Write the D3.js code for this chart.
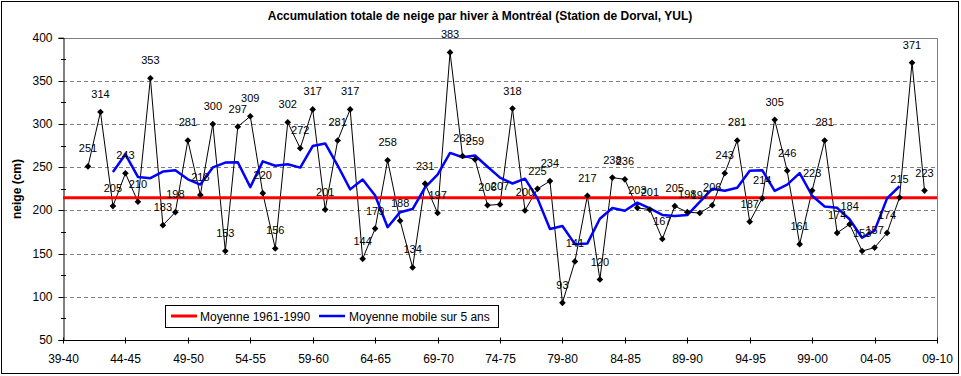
<!DOCTYPE html>
<html>
<head>
<meta charset="utf-8">
<script src="https://cdn.jsdelivr.net/npm/d3@7"></script>
<style>
  body { margin: 0; background: #fff; }
  svg { display: block; font-family: "Liberation Sans", Arial, sans-serif; }
</style>
</head>
<body>
<svg id="chart" width="961" height="376"></svg>
<script>
// ---------- DATA ----------
const firstSeasonStart = 1939;   // axis starts at 39-40
const lastSeasonStart = 2009;    // axis ends at 09-10
const dataStartYear = 1941;      // first value is 41-42

const snowfall = [
  251, 314, 205, 243, 210, 353, 183, 198, 281, 218,
  300, 153, 297, 309, 220, 156, 302, 272, 317, 201,
  281, 317, 144, 179, 258, 188, 134, 231, 197, 383,
  263, 259, 206, 207, 318, 200, 225, 234, 93, 141,
  217, 120, 238, 236, 203, 201, 167, 205, 198, 197,
  206, 243, 281, 187, 214, 305, 246, 161, 223, 281,
  174, 184, 153, 157, 174, 215, 371, 223
];

const movingAvgStartYear = 1943; // centered 5-year average, first at 43-44
const movingAvg = [
  244.6, 265.0, 238.8, 237.4, 245.0, 246.6, 236.0, 230.0, 249.8, 255.4,
  255.8, 227.0, 256.8, 251.8, 253.4, 249.6, 274.6, 277.6, 252.0, 224.4,
  235.8, 217.2, 180.6, 198.0, 201.6, 226.6, 241.6, 266.6, 261.6, 263.6,
  250.6, 238.0, 231.2, 236.8, 214.0, 178.6, 182.0, 161.0, 161.8, 190.4,
  202.8, 199.6, 209.0, 202.4, 194.8, 193.6, 194.6, 209.8, 225.0, 222.8,
  226.2, 246.0, 246.6, 222.6, 229.8, 243.2, 217.0, 204.6, 203.0, 189.8,
  168.4, 176.6, 214.0, 228.0
];

const normal1961_1990 = 214.7;

const tickLabels = ["39-40","44-45","49-50","54-55","59-60","64-65","69-70",
  "74-75","79-80","84-85","89-90","94-95","99-00","04-05","09-10"];
const yTicks = [50, 100, 150, 200, 250, 300, 350, 400];
const yMinorTicks = [75, 125, 175, 225, 275, 325, 375];
const gridValues = [100, 150, 200, 250, 300, 350];

const title = "Accumulation totale de neige par hiver à Montréal (Station de Dorval, YUL)";
const yTitle = "neige (cm)";
const legendLabels = ["Moyenne 1961-1990", "Moyenne mobile sur 5 ans"];

// ---------- HELPERS ----------
const seasonLabel = yr => String(yr % 100).padStart(2, "0") + "-" + String((yr + 1) % 100).padStart(2, "0");
const seasons = d3.range(firstSeasonStart, lastSeasonStart + 1).map(seasonLabel);
const points = snowfall.map((v, i) => ({ s: seasonLabel(dataStartYear + i), v }));
const avgPoints = movingAvg.map((v, i) => ({ s: seasonLabel(movingAvgStartYear + i), v }));

// ---------- LAYOUT ----------
const svg = d3.select("#chart");
const W = 961, H = 376;
const plotLeft = 63, plotRight = 937, plotTop = 37.7, plotBottom = 340;

const x = d3.scalePoint().domain(seasons).range([plotLeft, plotRight]);
const y = d3.scaleLinear().domain([50, 400]).range([plotBottom, plotTop]);
const py = v => Math.round(y(v)) + 0.5;

// outer border
svg.append("rect").attr("x", 1.5).attr("y", 1.5).attr("width", W - 4).attr("height", H - 4)
  .attr("fill", "#fff").attr("stroke", "#000").attr("stroke-width", 1);

// title
svg.append("text").attr("x", 480).attr("y", 20).attr("text-anchor", "middle")
  .attr("font-size", 12).attr("font-weight", "bold").text(title);

// y axis title
svg.append("text").attr("transform", "translate(21,189) rotate(-90)")
  .attr("text-anchor", "middle").attr("font-size", 12).attr("font-weight", "bold").text(yTitle);

// gridlines
svg.append("g").selectAll("line").data(gridValues).join("line")
  .attr("x1", plotLeft).attr("x2", plotRight)
  .attr("y1", d => py(d)).attr("y2", d => py(d))
  .attr("stroke", "#808080").attr("stroke-dasharray", "4,3").attr("stroke-width", 1);

// top and right frame (gray)
svg.append("line").attr("x1", plotLeft).attr("x2", plotRight + 0.5)
  .attr("y1", py(400)).attr("y2", py(400)).attr("stroke", "#808080");
svg.append("line").attr("x1", plotRight + 0.5).attr("x2", plotRight + 0.5)
  .attr("y1", py(400)).attr("y2", plotBottom).attr("stroke", "#808080");

// left axis
const yAxis = d3.axisLeft(y).tickValues(yTicks).tickSize(5).tickPadding(6).tickFormat(d3.format("d"));
const gy = svg.append("g").attr("transform", `translate(${plotLeft + 0.5},0)`).call(yAxis);
gy.select(".domain").attr("stroke", "#000");
gy.selectAll(".tick line").attr("stroke", "#000");
gy.selectAll(".tick text").attr("font-size", 12).attr("font-family", "Liberation Sans, Arial, sans-serif").attr("fill", "#000");
gy.selectAll(".tick").attr("transform", d => `translate(0,${py(d)})`);
// minor ticks crossing
svg.append("g").selectAll("line").data(yMinorTicks).join("line")
  .attr("x1", plotLeft - 2).attr("x2", plotLeft + 3)
  .attr("y1", d => py(d)).attr("y2", d => py(d))
  .attr("stroke", "#000");

// bottom axis
const xAxis = d3.axisBottom(x).tickValues(tickLabels).tickSize(3).tickPadding(11);
const gx = svg.append("g").attr("transform", `translate(0,${plotBottom + 0.5})`).call(xAxis);
gx.select(".domain").attr("stroke", "#000").attr("d", `M${plotLeft},0H${plotRight + 0.5}`);
gx.selectAll(".tick line").attr("stroke", "#000").attr("y1", -3).attr("y2", 3);
gx.selectAll(".tick text").attr("font-size", 12).attr("font-family", "Liberation Sans, Arial, sans-serif").attr("fill", "#000");
gx.selectAll(".tick").attr("transform", d => `translate(${Math.round(x(d)) + 0.5},0)`);

// snowfall series line
const line = d3.line().x(d => x(d.s)).y(d => y(d.v));
svg.append("path").datum(points).attr("d", line)
  .attr("fill", "none").attr("stroke", "#000").attr("stroke-width", 1);

// normal line (red)
svg.append("line").attr("x1", plotLeft).attr("x2", plotRight)
  .attr("y1", y(normal1961_1990)).attr("y2", y(normal1961_1990))
  .attr("stroke", "#ff0000").attr("stroke-width", 3);

// moving average (blue)
svg.append("path").datum(avgPoints).attr("d", line)
  .attr("fill", "none").attr("stroke", "#0000ff").attr("stroke-width", 2.5)
  .attr("stroke-linejoin", "round");

// markers
const diamond = d3.symbol().type(d3.symbolSquare).size(22);
svg.append("g").selectAll("path").data(points).join("path")
  .attr("d", diamond)
  .attr("transform", d => `translate(${x(d.s)},${y(d.v)}) rotate(45)`)
  .attr("fill", "#000");

// data labels
svg.append("g").selectAll("text").data(points).join("text")
  .attr("x", d => x(d.s)).attr("y", d => y(d.v) - 14)
  .attr("text-anchor", "middle").attr("font-size", 11).attr("fill", "#000")
  .text(d => d.v);

// legend
const lg = svg.append("g");
lg.append("rect").attr("x", 165.5).attr("y", 305.5).attr("width", 333).attr("height", 22)
  .attr("fill", "#fff").attr("stroke", "#000");
lg.append("line").attr("x1", 171).attr("x2", 197).attr("y1", 316).attr("y2", 316)
  .attr("stroke", "#ff0000").attr("stroke-width", 3);
lg.append("text").attr("x", 200).attr("y", 320.5).attr("font-size", 12).text(legendLabels[0]);
lg.append("line").attr("x1", 319).attr("x2", 345).attr("y1", 316).attr("y2", 316)
  .attr("stroke", "#0000ff").attr("stroke-width", 2.5);
lg.append("text").attr("x", 349).attr("y", 320.5).attr("font-size", 12).text(legendLabels[1]);
</script>
</body>
</html>
